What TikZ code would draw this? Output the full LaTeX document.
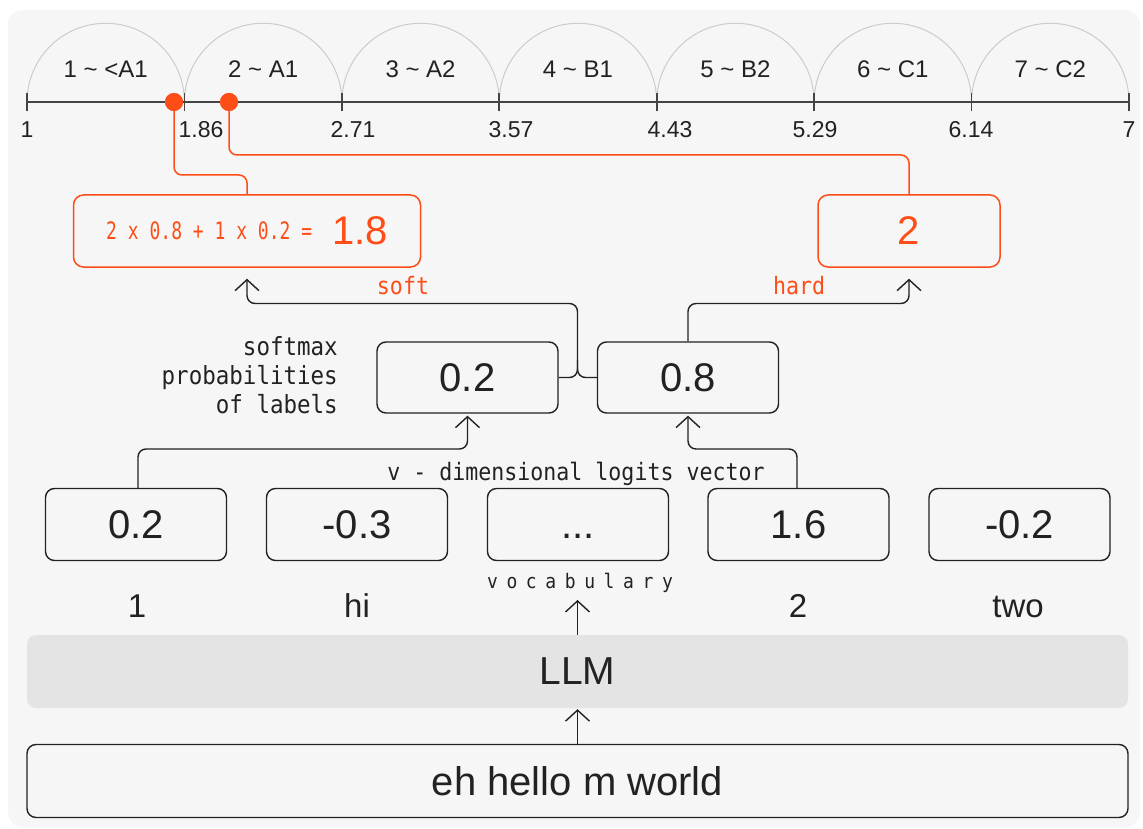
\documentclass[tikz,border=0pt]{standalone}
\usepackage{fontspec}
\setmainfont{Liberation Sans}
\newfontfamily\monof[FakeStretch=0.9]{DejaVu Sans Mono}
\newfontfamily\formf[FakeStretch=0.75]{DejaVu Sans Mono}
\newfontfamily\vocf[FakeStretch=0.9,LetterSpace=43]{DejaVu Sans Mono}
\usetikzlibrary{arrows.meta}
\definecolor{bg}{HTML}{F6F6F6}
\definecolor{ink}{HTML}{222222}
\definecolor{axisc}{HTML}{444444}
\definecolor{accent}{HTML}{FF4D17}
\definecolor{llmgray}{HTML}{E4E4E4}
\definecolor{arcgray}{HTML}{CCCCCC}
\newcommand{\myfs}[1]{\fontsize{#1}{#1}\selectfont}
\newcommand{\threedots}{\vphantom{0}...}
\begin{document}
\begin{tikzpicture}[x=1pt,y=-1pt,
  conn/.style={draw=ink,line width=1.4pt,rounded corners=8pt},
  tipped/.style={conn,-{Straight Barb[length=11pt,width=24pt]}},
  rline/.style={draw=accent,line width=1.5pt,rounded corners=8pt},
  valbox/.style={draw=ink,line width=1.4pt,rounded corners=9pt,minimum width=181pt,minimum height=71pt,inner sep=0pt,font=\myfs{40},text=ink},
  redbox/.style={draw=accent,line width=1.5pt,rounded corners=10pt,minimum height=72pt,inner sep=0pt,text=accent},
  monolab/.style={font=\monof\myfs{25},text=ink,inner sep=0pt},
  redlab/.style={font=\monof\myfs{24},text=accent,inner sep=0pt,anchor=base},
  toklab/.style={font=\myfs{33},text=ink,inner sep=0pt,anchor=base},
  arcline/.style={draw=arcgray,line width=1pt},
  axisline/.style={draw=axisc,line width=2pt},
  seglab/.style={font=\myfs{24},text=ink,inner sep=0pt,anchor=base},
  ticklab/.style={font=\myfs{23},text=ink,inner sep=0pt,anchor=base},
  dot/.style={circle,fill=accent,minimum size=18pt,inner sep=0pt}
]
\useasboundingbox (0,0) rectangle (1143,829);
\fill[bg,rounded corners=14pt] (8,10) rectangle (1140,827);

% scale: semicircles, axis, ticks
\foreach \i in {0,1,2,3,4,5,6}{
  \draw[arcline] ({27+\i*157.43},102) arc[start angle=180,end angle=360,radius=78.71];
}
\draw[axisline] (27,102) -- (1129,102);
\foreach \i in {0,1,2,3,4,5,6,7}{
  \draw[axisline,line width=1.6pt] ({27+\i*157.43},93) -- ({27+\i*157.43},111);
}
\foreach \i/\t in {0/1 \textasciitilde{} <A1,1/2 \textasciitilde{} A1,2/3 \textasciitilde{} A2,3/4 \textasciitilde{} B1,4/5 \textasciitilde{} B2,5/6 \textasciitilde{} C1,6/7 \textasciitilde{} C2}{
  \node[seglab] (seg\i) at ({27+(\i+0.5)*157.43},78) {\t};
}
\foreach \n/\x/\t in {0/27/1,1/201/1.86,2/353/2.71,3/511/3.57,4/670/4.43,5/815/5.29,6/971/6.14,7/1129/7}{
  \node[ticklab] (tk\n) at (\x,138) {\t};
}

% result boxes
\node[redbox,minimum width=347pt] (soft) at (247,231)
  {\raisebox{5.5pt}{\formf\myfs{24}2 x 0.8 + 1 x 0.2 =}\hspace{20pt}{\myfs{40}1.8}};
\node[redbox,minimum width=182pt,font=\myfs{40}] (hard) at (909,231) {2};

% red dots and links
\node[dot] (d1) at (174,102) {};
\node[dot] (d2) at (229,102) {};
\draw[rline] (d1.center) -- (d1.center |- 0,175) -- (soft.north |- 0,175) -- (soft.north);
\draw[rline] (d2.center) -- (d2.center |- 0,155) -- (hard.north |- 0,155) -- (hard.north);
\node[dot] at (d1) {};
\node[dot] at (d2) {};

% probability boxes
\node[valbox] (p2) at (467.5,377.5) {0.2};
\node[valbox] (p8) at (688,377.5) {0.8};
\node[monolab,anchor=north east,align=right] (smx) at (338,336)
  {softmax\\[4pt]probabilities\\[4pt]of labels};

\coordinate (join) at (577.5,377.5);
\draw[tipped,shorten >=11pt] (p2.east) -- (join) -- (join |- 0,303.5) -- (soft.south |- 0,303.5) -- (soft.south);
\draw[conn] (p8.west) -- (join) -- (join |- 0,360);
\draw[tipped,shorten >=11pt] (p8.north) -- (p8.north |- 0,303.5) -- (hard.south |- 0,303.5) -- (hard.south);
\node[redlab] (softlab) at (403,294) {soft};
\node[redlab] (hardlab) at (799,294) {hard};

% logits
\foreach \n/\x/\t in {1/136/0.2,2/357/-0.3,3/578/\threedots,4/798.5/1.6,5/1019.5/-0.2}{
  \node[valbox,minimum height=72pt] (l\n) at (\x,524.5) {\t};
}
\draw[tipped,shorten >=2pt] (l1.north -| 138,0) -- (138,449) -- (p2.south |- 0,449) -- (p2.south);
\draw[tipped,shorten >=2pt] (l4.north -| 797,0) -- (797,449) -- (p8.south |- 0,449) -- (p8.south);
\node[font=\monof\myfs{24},text=ink,inner sep=0pt,anchor=base] (vdim) at (576,480) {v - dimensional logits vector};

% tokens
\node[toklab] (t1) at (137,617) {1};
\node[toklab] (t2) at (357,617) {hi};
\node[toklab] (t4) at (798,617) {2};
\node[toklab] (t5) at (1018,617) {two};
\node[font=\vocf\myfs{20},text=ink,inner sep=0pt,anchor=base] (vocab) at (580,588) {vocabulary};

% LLM and input
\node[fill=llmgray,rounded corners=9pt,minimum width=1101pt,minimum height=73pt,inner sep=0pt,font=\myfs{39},text=ink] (llm) at (577.5,671.5) {LLM};
\node[valbox,minimum width=1101pt,minimum height=73pt,font=\myfs{40}] (inp) at (577.5,781) {eh hello m world};
\coordinate (vtip) at (577.5,600);
\draw[tipped,shorten >=1pt] (inp.north) -- (llm.south);
\draw[tipped] (llm.north) -- (vtip);
\end{tikzpicture}
\end{document}
